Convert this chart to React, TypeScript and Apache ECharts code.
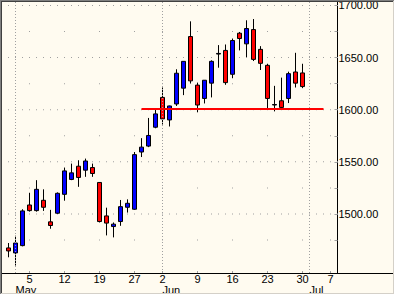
import React, { useEffect, useRef } from 'react';
import * as echarts from 'echarts';

// All trading days on the category axis (first and last are empty edge slots)
const tradingDays = [
  '2008-04-29', '2008-04-30',
  '2008-05-01', '2008-05-02',
  '2008-05-05', '2008-05-06', '2008-05-07', '2008-05-08', '2008-05-09',
  '2008-05-12', '2008-05-13', '2008-05-14', '2008-05-15', '2008-05-16',
  '2008-05-19', '2008-05-20', '2008-05-21', '2008-05-22', '2008-05-23',
  '2008-05-27', '2008-05-28', '2008-05-29', '2008-05-30',
  '2008-06-02', '2008-06-03', '2008-06-04', '2008-06-05', '2008-06-06',
  '2008-06-09', '2008-06-10', '2008-06-11', '2008-06-12', '2008-06-13',
  '2008-06-16', '2008-06-17', '2008-06-18', '2008-06-19', '2008-06-20',
  '2008-06-23', '2008-06-24', '2008-06-25', '2008-06-26', '2008-06-27',
  '2008-06-30',
  '2008-07-01', '2008-07-02', '2008-07-03', '2008-07-07', '2008-07-08',
];

// Candles: Apr 30 .. Jun 30
const candleDates = tradingDays.slice(1, 44);
const opens = [
  1467.4, 1462.6, 1469.6, 1508.6, 1503.2, 1513.1, 1492.4, 1500.7,
  1518.8, 1533.1, 1545.8, 1542.0, 1544.5,
  1530.2, 1498.1, 1487.9, 1492.7, 1506.4,
  1504.5, 1559.4, 1565.1, 1583.2,
  1611.8, 1590.2, 1605.5, 1620.7, 1670.2,
  1623.6, 1610.8, 1625.5, 1653.4, 1656.9,
  1634.0, 1673.4, 1663.2, 1676.9, 1657.9,
  1642.6, 1604.5, 1608.6, 1610.8, 1636.2,
  1635.3,
];
const closes = [
  1464.5, 1472.1, 1502.9, 1503.2, 1523.6, 1506.4, 1488.9, 1519.8,
  1541.3, 1539.4, 1535.0, 1550.8, 1538.8,
  1492.7, 1491.2, 1490.2, 1507.0, 1510.2,
  1556.9, 1564.1, 1575.3, 1596.0,
  1591.2, 1603.6, 1635.0, 1646.4, 1627.7,
  1604.5, 1628.3, 1646.4, 1654.0, 1626.0,
  1666.4, 1668.3, 1677.9, 1648.3, 1644.5,
  1610.8, 1605.0, 1602.2, 1634.6, 1625.5,
  1622.2,
];
const lows = [
  1458.4, 1450.5, 1468.9, 1502.2, 1502.2, 1502.9, 1485.8, 1500.0,
  1512.7, 1532.4, 1526.0, 1535.6, 1535.6,
  1491.8, 1479.4, 1477.5, 1488.6, 1501.3,
  1503.9, 1554.6, 1564.1, 1582.2,
  1585.8, 1583.9, 1603.6, 1614.0, 1625.1,
  1597.5, 1606.0, 1611.8, 1640.3, 1623.9,
  1630.2, 1656.9, 1650.5, 1646.7, 1638.1,
  1601.3, 1598.4, 1600.0, 1606.4, 1621.3,
  1620.7,
];
const highs = [
  1472.1, 1479.1, 1504.5, 1520.3, 1532.4, 1523.6, 1503.9, 1520.7,
  1544.5, 1548.3, 1551.5, 1553.1, 1548.3,
  1530.5, 1506.0, 1491.8, 1513.4, 1514.0,
  1559.4, 1572.7, 1592.1, 1600.0,
  1621.3, 1603.9, 1638.8, 1646.6, 1684.8,
  1626.0, 1628.5, 1647.4, 1662.0, 1662.6,
  1668.3, 1674.6, 1685.8, 1687.0, 1661.0,
  1644.1, 1622.9, 1630.8, 1636.5, 1654.6,
  1644.1,
];

const weekStarts = [
  '2008-05-05', '2008-05-12', '2008-05-19', '2008-05-27', '2008-06-02',
  '2008-06-09', '2008-06-16', '2008-06-23', '2008-06-30', '2008-07-07',
];
const monthStarts = ['2008-05-01', '2008-06-02', '2008-07-01'];
const monthNames = ['May', 'Jun', 'Jul'];

const priceLabels = [1500, 1550, 1600, 1650, 1700];
const minorLevels = [1475, 1525, 1575, 1625, 1675];
const yMin = 1443.33;
const yMax = 1703.8;

const supportLevel = 1601;
const supportFrom = '2008-05-28';
const supportTo = '2008-07-03';

const FONT = 'Liberation Sans, Arial, sans-serif';
const GRID_GRAY = '#a0a0a0';

export default function App() {
  const ref = useRef<HTMLDivElement>(null);

  useEffect(() => {
    if (!ref.current) return;
    const chart = echarts.init(ref.current, undefined, { renderer: 'svg' });

    const candleData = tradingDays.map((d) => {
      const i = candleDates.indexOf(d);
      return i < 0 ? ['-', '-', '-', '-'] : [opens[i], closes[i], lows[i], highs[i]];
    });

    const gridDots: number[][] = [];
    priceLabels.forEach((lv) => tradingDays.forEach((_, i) => gridDots.push([i, lv])));
    minorLevels.forEach((lv) => weekStarts.forEach((d) => gridDots.push([tradingDays.indexOf(d), lv])));

    const allLevels = [...minorLevels, ...priceLabels].sort((a, b) => a - b);

    chart.setOption({
      animation: false,
      backgroundColor: '#FFFBF0',
      grid: { left: 1.5, right: 57.5, top: 0, bottom: 21.5, containLabel: false },
      xAxis: [
        {
          type: 'category',
          data: tradingDays,
          boundaryGap: false,
          position: 'bottom',
          axisLine: { show: true, onZero: false, lineStyle: { color: '#000', width: 1 } },
          axisTick: {
            show: true,
            inside: true,
            length: 2,
            interval: (_i: number, v: string) => weekStarts.includes(v),
            lineStyle: { color: GRID_GRAY },
          },
          axisLabel: {
            interval: (_i: number, v: string) => weekStarts.includes(v),
            formatter: (v: string) => String(Number(v.slice(8))),
            margin: 1,
            fontSize: 11,
            lineHeight: 9,
            fontFamily: FONT,
            color: '#000',
          },
          splitLine: { show: false },
        },
        {
          type: 'category',
          data: tradingDays,
          boundaryGap: false,
          position: 'bottom',
          axisLine: { show: false, onZero: false },
          axisTick: { show: false },
          axisLabel: {
            interval: (_i: number, v: string) => monthStarts.includes(v),
            formatter: (v: string) => monthNames[monthStarts.indexOf(v)] || '',
            align: 'left',
            margin: 12,
            fontSize: 11,
            lineHeight: 9,
            fontFamily: FONT,
            color: '#000',
          },
          splitLine: { show: false },
        },
      ],
      yAxis: {
        type: 'value',
        position: 'right',
        min: yMin,
        max: yMax,
        axisLine: { show: true, lineStyle: { color: '#000', width: 1 } },
        axisTick: {
          show: true,
          inside: true,
          length: 3,
          customValues: allLevels,
          lineStyle: { color: GRID_GRAY },
        },
        axisLabel: {
          customValues: priceLabels,
          formatter: (v: number) => v.toFixed(2),
          margin: 1,
          fontSize: 11,
          fontFamily: FONT,
          color: '#000',
        },
        splitLine: { show: false },
      },
      series: [
        {
          type: 'scatter',
          data: gridDots,
          symbol: 'rect',
          symbolSize: 1,
          silent: true,
          z: 1,
          itemStyle: { color: GRID_GRAY, opacity: 1 },
          emphasis: { disabled: true },
          markLine: {
            silent: true,
            symbol: ['none', 'none'],
            label: { show: false },
            lineStyle: { color: GRID_GRAY, width: 1, type: [1, 2] },
            emphasis: { disabled: true },
            data: monthStarts.map((d) => ({ xAxis: tradingDays.indexOf(d) })),
          },
        },
        {
          type: 'candlestick',
          data: candleData,
          barWidth: 4,
          z: 3,
          silent: true,
          itemStyle: {
            color: '#0000FF',
            color0: '#FF0000',
            borderColor: '#000',
            borderColor0: '#000',
            borderColorDoji: '#000',
            borderWidth: 1,
          },
          emphasis: { disabled: true },
          markLine: {
            silent: true,
            symbol: ['none', 'none'],
            label: { show: false },
            lineStyle: { color: '#FF0000', width: 2, type: 'solid' },
            emphasis: { disabled: true },
            data: [
              [
                { coord: [tradingDays.indexOf(supportFrom), supportLevel] },
                { coord: [tradingDays.indexOf(supportTo), supportLevel] },
              ],
            ],
          },
        },
      ],
      graphic: [
        { type: 'line', z: 50, shape: { x1: 337, y1: 273.5, x2: 393, y2: 273.5 }, style: { stroke: '#000', lineWidth: 1 } },
        { type: 'rect', z: 100, shape: { x: 0, y: 0, width: 395, height: 1 }, style: { fill: '#808080' } },
        { type: 'rect', z: 100, shape: { x: 0, y: 1, width: 394, height: 1 }, style: { fill: '#404040' } },
        { type: 'rect', z: 100, shape: { x: 0, y: 0, width: 1, height: 295 }, style: { fill: '#808080' } },
        { type: 'rect', z: 100, shape: { x: 1, y: 1, width: 1, height: 293 }, style: { fill: '#404040' } },
        { type: 'rect', z: 100, shape: { x: 394, y: 0, width: 1, height: 295 }, style: { fill: '#ffffff' } },
        { type: 'rect', z: 100, shape: { x: 393, y: 1, width: 1, height: 293 }, style: { fill: '#d4d0c8' } },
        { type: 'rect', z: 100, shape: { x: 0, y: 294, width: 395, height: 1 }, style: { fill: '#ffffff' } },
        { type: 'rect', z: 100, shape: { x: 1, y: 293, width: 393, height: 1 }, style: { fill: '#d4d0c8' } },
      ],
    });

    return () => chart.dispose();
  }, []);

  return (
    <div
      ref={ref}
      style={{ position: 'fixed', left: 0, top: 0, width: 395, height: 295, background: '#FFFBF0' }}
    />
  );
}
